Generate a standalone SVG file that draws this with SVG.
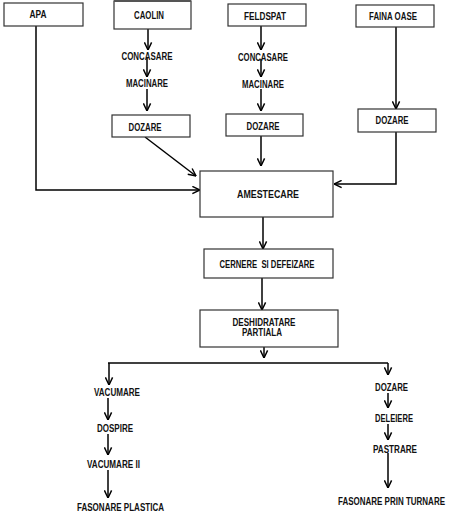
<svg xmlns="http://www.w3.org/2000/svg" width="474" height="530" viewBox="0 0 474 530">
<style>
.box{fill:#fff;stroke:#333;stroke-width:1.2}
.t{font-family:"Liberation Sans",Arial,sans-serif;font-weight:bold;font-size:10px;fill:#111;text-anchor:middle}
.c{fill:none;stroke:#000;stroke-width:1.5}
</style>
<defs>
<marker id="ah" viewBox="0 0 10 10" refX="9.5" refY="5" markerWidth="9" markerHeight="9" markerUnits="userSpaceOnUse" orient="auto">
<path d="M1,1 L9.5,5 L1,9" fill="none" stroke="#000" stroke-width="1.6"/>
</marker>
</defs>
<rect width="474" height="530" fill="#fff"/>
<g id="connectors">
<path class="c" d="M36,26 V190 H200" marker-end="url(#ah)"/>
<path class="c" d="M148,29 V50" marker-end="url(#ah)"/>
<path class="c" d="M147,58 V77" marker-end="url(#ah)"/>
<path class="c" d="M147,89 V111" marker-end="url(#ah)"/>
<path class="c" d="M145,137 L196,176" marker-end="url(#ah)"/>
<path class="c" d="M261,26 V50" marker-end="url(#ah)"/>
<path class="c" d="M261,59 V77" marker-end="url(#ah)"/>
<path class="c" d="M261,89 V111" marker-end="url(#ah)"/>
<path class="c" d="M261,136 V166" marker-end="url(#ah)"/>
<path class="c" d="M396,27 V109" marker-end="url(#ah)"/>
<path class="c" d="M396,132 V184 H334" marker-end="url(#ah)"/>
<path class="c" d="M263,217 V249" marker-end="url(#ah)"/>
<path class="c" d="M262,278 V310" marker-end="url(#ah)"/>
<path class="c" d="M264,347 V358" marker-end="url(#ah)"/>
<path class="c" d="M108,363 H388"/>
<path class="c" d="M109,363 V385" marker-end="url(#ah)"/>
<path class="c" d="M388,363 V375" marker-end="url(#ah)"/>
<path class="c" d="M108,398 V420" marker-end="url(#ah)"/>
<path class="c" d="M108,434 V455" marker-end="url(#ah)"/>
<path class="c" d="M108,470 V498" marker-end="url(#ah)"/>
<path class="c" d="M388,393 V408" marker-end="url(#ah)"/>
<path class="c" d="M388,424 V440" marker-end="url(#ah)"/>
<path class="c" d="M388,453 V488" marker-end="url(#ah)"/>
</g>
<g id="apa"><rect class="box" x="4" y="3" width="79" height="23"/><text class="t" x="38" y="17.5" textLength="17" lengthAdjust="spacingAndGlyphs">APA</text></g>
<g id="caolin"><rect class="box" x="114" y="1" width="77" height="28"/><line x1="114" y1="1" x2="191" y2="1" stroke="#555" stroke-width="2"/><text class="t" x="149" y="18.5" textLength="30" lengthAdjust="spacingAndGlyphs">CAOLIN</text></g>
<g id="concasare1"><text class="t" x="147" y="59.5" textLength="51" lengthAdjust="spacingAndGlyphs">CONCASARE</text></g>
<g id="macinare1"><text class="t" x="147" y="86.5" textLength="42" lengthAdjust="spacingAndGlyphs">MACINARE</text></g>
<g id="dozare1"><rect class="box" x="112" y="115" width="78" height="22"/><text class="t" x="145" y="130.5" textLength="33" lengthAdjust="spacingAndGlyphs">DOZARE</text></g>
<g id="feldspat"><rect class="box" x="228" y="4" width="78" height="22"/><text class="t" x="265" y="19.5" textLength="42" lengthAdjust="spacingAndGlyphs">FELDSPAT</text></g>
<g id="concasare2"><text class="t" x="263" y="60.5" textLength="50" lengthAdjust="spacingAndGlyphs">CONCASARE</text></g>
<g id="macinare2"><text class="t" x="263" y="87.5" textLength="42" lengthAdjust="spacingAndGlyphs">MACINARE</text></g>
<g id="dozare2"><rect class="box" x="226" y="114" width="77" height="22"/><text class="t" x="263" y="130" textLength="33" lengthAdjust="spacingAndGlyphs">DOZARE</text></g>
<g id="faina"><rect class="box" x="356" y="5" width="78" height="22"/><text class="t" x="393" y="19.5" textLength="48" lengthAdjust="spacingAndGlyphs">FAINA OASE</text></g>
<g id="dozare3"><rect class="box" x="358" y="109" width="78" height="23"/><text class="t" x="392" y="124" textLength="33" lengthAdjust="spacingAndGlyphs">DOZARE</text></g>
<g id="amestecare"><rect class="box" x="200" y="171" width="133" height="46"/><text class="t" x="268" y="198" font-size="11" textLength="62" lengthAdjust="spacingAndGlyphs">AMESTECARE</text></g>
<g id="cernere"><rect class="box" x="204" y="249" width="129" height="29"/><text class="t" x="267" y="267.5" xml:space="preserve" textLength="95" lengthAdjust="spacingAndGlyphs">CERNERE  SI DEFEIZARE</text></g>
<g id="deshidratare"><rect class="box" x="200" y="310" width="138" height="37"/><text class="t" x="264" y="325.5" textLength="63" lengthAdjust="spacingAndGlyphs">DESHIDRATARE</text><text class="t" x="262" y="335.5" textLength="40" lengthAdjust="spacingAndGlyphs">PARTIALA</text></g>
<g id="vacumare"><text class="t" x="117" y="395.5" textLength="46" lengthAdjust="spacingAndGlyphs">VACUMARE</text></g>
<g id="dospire"><text class="t" x="115" y="431.5" textLength="36" lengthAdjust="spacingAndGlyphs">DOSPIRE</text></g>
<g id="vacumare2"><text class="t" x="113.5" y="467.5" textLength="53" lengthAdjust="spacingAndGlyphs">VACUMARE II</text></g>
<g id="fasonare-plastica"><text class="t" x="120.5" y="510.5" textLength="87" lengthAdjust="spacingAndGlyphs">FASONARE PLASTICA</text></g>
<g id="dozare4"><text class="t" x="391.5" y="390.5" textLength="33" lengthAdjust="spacingAndGlyphs">DOZARE</text></g>
<g id="deleiere"><text class="t" x="394" y="421.5" textLength="38" lengthAdjust="spacingAndGlyphs">DELEIERE</text></g>
<g id="pastrare"><text class="t" x="395" y="452.5" textLength="44" lengthAdjust="spacingAndGlyphs">PASTRARE</text></g>
<g id="fasonare-turnare"><text class="t" x="391.5" y="504.5" textLength="107" lengthAdjust="spacingAndGlyphs">FASONARE PRIN TURNARE</text></g>
</svg>
